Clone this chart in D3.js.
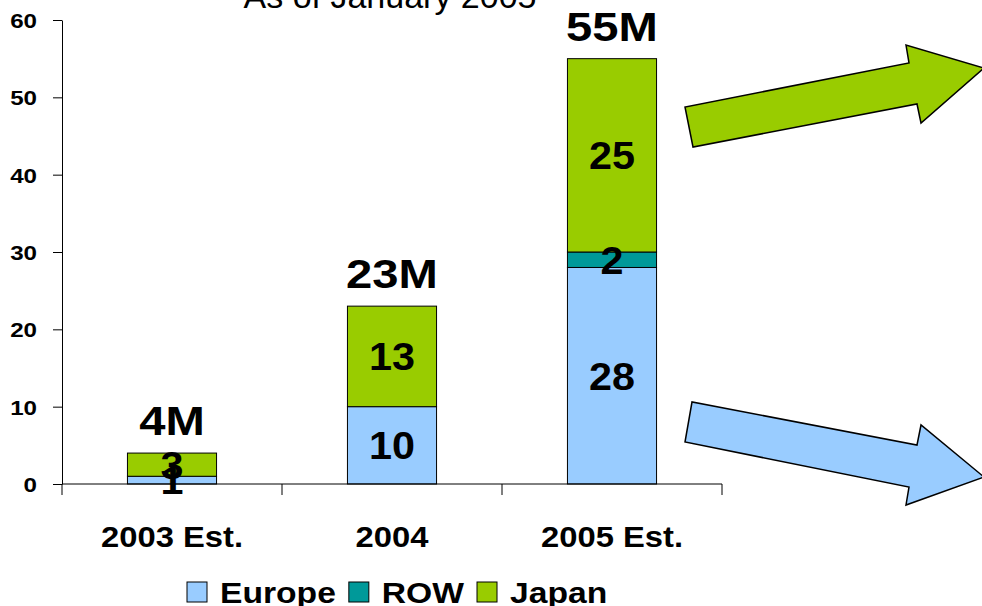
<!DOCTYPE html>
<html>
<head>
<meta charset="utf-8">
<script src="https://cdn.jsdelivr.net/npm/d3@7"></script>
<style>
  html, body { margin: 0; padding: 0; background: #fff; }
  svg { display: block; font-family: "Liberation Sans", Arial, sans-serif; }
</style>
</head>
<body>
<svg id="chart" width="982" height="606"></svg>
<script>
// Subscriber counts (millions) by region
const categories = ["2003 Est.", "2004", "2005 Est."];
const europe = [1, 10, 28];
const rowValues = [0, 0, 2];
const japan = [3, 13, 25];
const yTicks = [0, 10, 20, 30, 40, 50, 60];
const seriesNames = ["Europe", "ROW", "Japan"];
const seriesColors = ["#99CCFF", "#009999", "#99CC00"];
const titleText = "As of January 2005";

// Decorative arrows beside the chart (outline points)
const greenArrow = [[693,147],[685,107],[909,63],[906,45],[984,68],[921,123],[917,104]];
const blueArrow  = [[692,402],[685,442],[909,487],[906,505],[984,477],[921,425],[917,445]];

const svg = d3.select("#chart");
const margin = { left: 62, right: 260, top: 20, bottom: 122 };
const W = 982, H = 606;

const table = categories.map((c, i) => ({
  cat: c, Europe: europe[i], ROW: rowValues[i], Japan: japan[i]
}));
const stack = d3.stack().keys(seriesNames)(table);

const x = d3.scaleBand()
  .domain(categories)
  .range([margin.left, W - margin.right])
  .paddingInner(0.595)
  .paddingOuter(0.2975);

const y = d3.scaleLinear()
  .domain([0, 60])
  .range([H - margin.bottom, margin.top]);

const color = d3.scaleOrdinal().domain(seriesNames).range(seriesColors);

// helper for horizontally widened text
function wideText(sel, sx) {
  return sel.attr("transform", d => `translate(${d.tx},${d.ty}) scale(${sx},1)`);
}

// Title
svg.append("text")
  .attr("x", 390)
  .attr("y", 8)
  .attr("text-anchor", "middle")
  .attr("font-size", 34)
  .attr("fill", "#000")
  .text(titleText);

// Arrows
const line = d3.line().curve(d3.curveLinearClosed);
svg.append("path").attr("d", line(greenArrow))
  .attr("fill", "#99CC00").attr("stroke", "#000").attr("stroke-width", 1.5).attr("stroke-linejoin", "miter");
svg.append("path").attr("d", line(blueArrow))
  .attr("fill", "#99CCFF").attr("stroke", "#000").attr("stroke-width", 1.5).attr("stroke-linejoin", "miter");

// Bars
const layers = svg.append("g").selectAll("g")
  .data(stack).join("g")
  .attr("fill", d => color(d.key));

layers.selectAll("rect")
  .data(d => d.filter(s => s[1] - s[0] > 0))
  .join("rect")
  .attr("x", d => x(d.data.cat))
  .attr("width", x.bandwidth())
  .attr("y", d => y(d[1]))
  .attr("height", d => y(d[0]) - y(d[1]))
  .attr("stroke", "#000")
  .attr("stroke-width", 1);

// Y axis
const yAxis = svg.append("g")
  .attr("transform", `translate(${margin.left},0)`)
  .call(d3.axisLeft(y).tickValues(yTicks).tickSize(9).tickPadding(16).tickSizeOuter(0));
yAxis.select(".domain").attr("stroke", "#000");
yAxis.selectAll(".tick line").attr("stroke", "#000");
yAxis.selectAll(".tick text")
  .attr("font-family", "Liberation Sans, Arial, sans-serif")
  .attr("font-weight", "bold")
  .attr("font-size", 21)
  .attr("fill", "#000")
  .attr("dy", "0.36em")
  .attr("transform", function () {
    const tx = +d3.select(this).attr("x");
    return `translate(${tx},0) scale(1.15,1) translate(${-tx},0)`;
  });

// X axis with boundary ticks between categories
const xAxisG = svg.append("g")
  .attr("transform", `translate(0,${y(0)})`);
xAxisG.append("line")
  .attr("x1", margin.left).attr("x2", W - margin.right)
  .attr("stroke", "#000");
const step = x.step();
const bounds = d3.range(categories.length + 1).map(i => margin.left + i * step);
xAxisG.selectAll("line.tk").data(bounds).join("line")
  .attr("class", "tk")
  .attr("x1", d => d).attr("x2", d => d)
  .attr("y1", 0).attr("y2", 11)
  .attr("stroke", "#000");

// Category labels
svg.append("g").selectAll("text")
  .data(categories.map(c => ({ c, tx: x(c) + x.bandwidth() / 2, ty: 547 })))
  .join("text")
  .call(wideText, 1.13)
  .attr("text-anchor", "middle")
  .attr("font-weight", "bold")
  .attr("font-size", 29)
  .attr("fill", "#000")
  .text(d => d.c);

// Segment value labels
const segs = [];
stack.forEach(layer => layer.forEach(s => {
  const v = s[1] - s[0];
  if (v > 0) segs.push({ v, tx: x(s.data.cat) + x.bandwidth() / 2, ty: y((s[0] + s[1]) / 2) });
}));
svg.append("g").selectAll("text")
  .data(segs).join("text")
  .call(wideText, 1.06)
  .attr("text-anchor", "middle")
  .attr("dy", "0.36em")
  .attr("font-weight", "bold")
  .attr("font-size", 39)
  .attr("fill", "#000")
  .text(d => d.v);

// Totals above bars
const totals = table.map(d => ({ cat: d.cat, total: d.Europe + d.ROW + d.Japan }));
svg.append("g").selectAll("text")
  .data(totals.map(t => ({ ...t, tx: x(t.cat) + x.bandwidth() / 2, ty: y(t.total) - 18 })))
  .join("text")
  .call(wideText, 1.18)
  .attr("text-anchor", "middle")
  .attr("font-weight", "bold")
  .attr("font-size", 40)
  .attr("fill", "#000")
  .text(d => d.total + "M");

// Legend
const legend = svg.append("g");
let lx = 187;
const ly = 603;
seriesNames.forEach((name, i) => {
  legend.append("rect")
    .attr("x", lx).attr("y", ly - 21)
    .attr("width", 20).attr("height", 20)
    .attr("fill", seriesColors[i])
    .attr("stroke", "#000").attr("stroke-width", 1);
  const t = legend.append("text")
    .attr("transform", `translate(${lx + 33},${ly}) scale(1.16,1)`)
    .attr("font-weight", "bold")
    .attr("font-size", 29)
    .attr("fill", "#000")
    .text(name);
  const w = t.node().getComputedTextLength() * 1.16;
  lx += 33 + w + 13;
});
</script>
</body>
</html>
